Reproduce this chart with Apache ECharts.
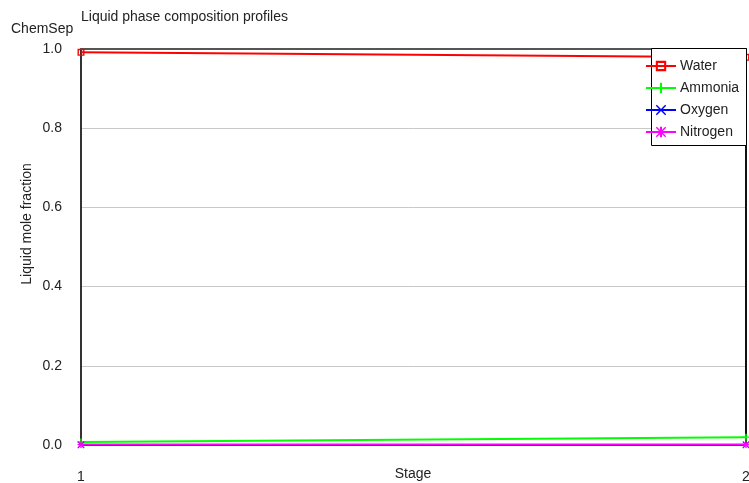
<!DOCTYPE html>
<html>
<head>
<meta charset="utf-8">
<script src="https://cdn.jsdelivr.net/npm/echarts@6/dist/echarts.min.js"></script>
<style>
  html, body { margin: 0; padding: 0; background: #fff; }
  #chart { width: 749px; height: 483px; }
</style>
</head>
<body>
<div id="chart"></div>
<script>
// Stage numbers along the column
const stages = [1, 2];
// Liquid mole fractions per stage
const water = [0.9915, 0.979];
const ammonia = [0.0075, 0.0198];
const oxygen = [0.0002, 0.0002];
const nitrogen = [0.001, 0.0012];
const yTicks = [0, 0.2, 0.4, 0.6, 0.8, 1.0];

const seriesNames = ['Water', 'Ammonia', 'Oxygen', 'Nitrogen'];
const seriesValues = [water, ammonia, oxygen, nitrogen];
const seriesColors = ['#ff0000', '#00ff00', '#0000ff', '#ff00ff'];

const FONT = 'Liberation Sans, Arial, sans-serif';

// Marker shapes: open square, plus, cross, asterisk
const plusPath = 'M4,0H6V4H10V6H6V10H4V6H0V4H4Z';
const crossPath = 'M0,1L1,0L5,4L9,0L10,1L6,5L10,9L9,10L5,6L1,10L0,9L4,5Z';
const symbols = [
  'path://M0,0H10V10H0Z M2,2V8H8V2Z',
  'path://' + plusPath,
  'path://' + crossPath,
  'path://' + crossPath + ' ' + plusPath
];

const chart = echarts.init(document.getElementById('chart'), null, { renderer: 'canvas' });

const series = seriesNames.map((name, i) => ({
  name: name,
  type: 'line',
  data: stages.map((s, k) => [s, seriesValues[i][k]]),
  symbol: symbols[i],
  symbolSize: 7,
  showAllSymbol: true,
  color: seriesColors[i],
  lineStyle: { width: 2, color: seriesColors[i] },
  itemStyle: { color: seriesColors[i] },
  animation: false,
  clip: false,
  z: 3 + i
}));

chart.setOption({
  backgroundColor: '#ffffff',
  animation: false,
  textStyle: { fontFamily: FONT },
  grid: {
    left: 81, right: 3, top: 49, bottom: 38,
    containLabel: false,
    outerBoundsMode: 'none'
  },
  xAxis: [{
    type: 'value',
    min: 1,
    max: 2,
    interval: 1,
    axisLine: { show: false },
    axisTick: { show: false },
    splitLine: { show: false },
    axisLabel: { color: '#222', fontSize: 14, fontFamily: FONT, margin: 25 }
  }, {
    type: 'value',
    position: 'top',
    min: 1,
    max: 2,
    axisLine: { show: true, onZero: false, lineStyle: { color: '#555', width: 2 } },
    axisTick: { show: false },
    axisLabel: { show: false },
    splitLine: { show: false }
  }],
  yAxis: [{
    type: 'value',
    min: 0,
    max: 1,
    interval: 0.2,
    axisLine: { show: true, onZero: false, lineStyle: { color: '#333', width: 2 } },
    axisTick: { show: false },
    axisLabel: {
      color: '#222', fontSize: 14, fontFamily: FONT, margin: 19,
      formatter: v => yTicks.includes(Math.round(v * 10) / 10) ? v.toFixed(1) : ''
    },
    splitLine: { show: true, lineStyle: { color: '#c8c8c8', width: 1 } }
  }, {
    type: 'value',
    position: 'right',
    min: 0,
    max: 1,
    axisLine: { show: true, onZero: false, lineStyle: { color: '#111', width: 2 } },
    axisTick: { show: false },
    axisLabel: { show: false },
    splitLine: { show: false }
  }],
  legend: {
    data: seriesNames,
    orient: 'vertical',
    left: 645,
    top: 59,
    padding: 0,
    itemWidth: 30,
    itemHeight: 13,
    itemGap: 8,
    textStyle: { color: '#222', fontSize: 14, fontFamily: FONT, padding: [0, 0, 0, -1] },
    z: 20
  },
  graphic: [
    {
      type: 'rect',
      shape: { x: 651.5, y: 48.5, width: 95, height: 97 },
      style: { fill: '#ffffff', stroke: '#000000', lineWidth: 1 },
      z: 15
    },
    {
      type: 'text',
      left: 81,
      top: 10,
      style: { text: 'Liquid phase composition profiles', fill: '#222', font: '14px ' + FONT }
    },
    {
      type: 'text',
      left: 11,
      top: 22,
      style: { text: 'ChemSep', fill: '#222', font: '14px ' + FONT }
    },
    {
      type: 'text',
      x: 413,
      y: 474,
      style: {
        text: 'Stage', fill: '#222', font: '14px ' + FONT,
        align: 'center', verticalAlign: 'middle'
      }
    },
    {
      type: 'text',
      x: 27,
      y: 224,
      rotation: Math.PI / 2,
      style: {
        text: 'Liquid mole fraction', fill: '#222', font: '14px ' + FONT,
        align: 'center', verticalAlign: 'middle'
      }
    }
  ],
  series: series
});
</script>
</body>
</html>
